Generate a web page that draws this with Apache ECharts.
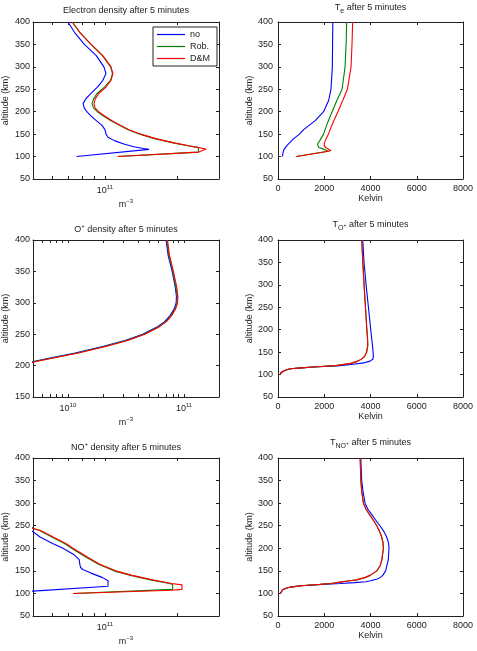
<!DOCTYPE html>
<html>
<head>
<meta charset="utf-8">
<script src="https://cdn.jsdelivr.net/npm/echarts@6/dist/echarts.min.js"></script>
<style>
html, body { margin: 0; padding: 0; background: #fff; }
#chart { width: 477px; height: 651px; }
</style>
</head>
<body>
<div id="chart"></div>
<script>
// ---- electron density (m^-3) ----
var neAltNo = [400, 375, 350, 325, 300, 285, 270, 255, 240, 228, 218, 208, 200, 190, 180, 170, 160, 150, 143, 135, 128, 122, 118, 116, 100];
var neNo = [7.0e10, 7.5e10, 8.2e10, 9.2e10, 9.9e10, 1.01e11, 9.8e10, 9.3e10, 8.7e10, 8.3e10, 8.1e10, 8.2e10, 8.4e10, 8.75e10, 9.2e10, 9.7e10, 1.0e11, 1.01e11, 1.03e11, 1.1e11, 1.2e11, 1.32e11, 1.45e11, 1.53e11, 7.6e10];
var neAltRob = [400, 375, 350, 325, 300, 285, 270, 255, 240, 228, 218, 208, 200, 190, 180, 170, 160, 150, 140, 130, 124, 120, 110, 100];
var neRob = [7.29e10, 7.89e10, 8.74e10, 9.76e10, 1.056e11, 1.075e11, 1.055e11, 9.95e10, 9.25e10, 8.95e10, 8.83e10, 8.97e10, 9.3e10, 9.9e10, 1.06e11, 1.15e11, 1.25e11, 1.40e11, 1.61e11, 1.95e11, 2.22e11, 2.46e11, 2.46e11, 1.13e11];
var neAltDM = [400, 375, 350, 325, 300, 285, 270, 255, 240, 228, 218, 208, 200, 190, 180, 170, 160, 150, 140, 130, 124, 120, 117, 114, 110, 100];
var neDM = [7.3e10, 7.9e10, 8.75e10, 9.8e10, 1.06e11, 1.08e11, 1.06e11, 1.01e11, 9.4e10, 9.1e10, 9.0e10, 9.1e10, 9.4e10, 1.0e11, 1.07e11, 1.16e11, 1.26e11, 1.41e11, 1.63e11, 1.97e11, 2.25e11, 2.47e11, 2.65e11, 2.67e11, 2.47e11, 1.13e11];

// ---- electron temperature (K) ----
var teAltNo = [400, 350, 300, 250, 225, 200, 180, 160, 150, 140, 125, 115, 105, 100];
var teNo = [2370, 2360, 2350, 2290, 2190, 1970, 1610, 1110, 930, 680, 390, 250, 200, 200];
var teAltRob = [400, 350, 300, 250, 225, 200, 175, 150, 135, 128, 124, 120, 116, 112, 108, 100];
var teRob = [2970, 2945, 2900, 2770, 2545, 2340, 2140, 1970, 1800, 1710, 1700, 1760, 2000, 2180, 1680, 790];
var teAltDM = [400, 350, 300, 250, 225, 200, 175, 150, 140, 130, 125, 120, 116, 113, 108, 100];
var teDM = [3230, 3200, 3160, 3000, 2800, 2590, 2370, 2180, 2080, 2000, 2000, 2060, 2200, 2290, 1750, 790];

// ---- O+ density (m^-3) ----
var opAlt = [400, 375, 350, 325, 310, 300, 290, 280, 270, 262, 250, 240, 230, 220, 212, 206, 200];
var opNo = [7.0e10, 7.3e10, 7.9e10, 8.4e10, 8.6e10, 8.55e10, 8.2e10, 7.6e10, 6.8e10, 5.9e10, 4.4e10, 3.1e10, 1.95e10, 1.15e10, 7.0e9, 4.9e9, 3.2e9];
var opRob = [7.1e10, 7.4e10, 8.0e10, 8.5e10, 8.75e10, 8.7e10, 8.35e10, 7.75e10, 6.95e10, 6.05e10, 4.5e10, 3.2e10, 2.02e10, 1.2e10, 7.3e9, 5.05e9, 3.3e9];
var opDM = [7.2e10, 7.5e10, 8.1e10, 8.65e10, 8.85e10, 8.8e10, 8.45e10, 7.85e10, 7.05e10, 6.15e10, 4.6e10, 3.28e10, 2.07e10, 1.23e10, 7.5e9, 5.2e9, 3.4e9];

// ---- O+ temperature (K) ----
var toAltNo = [400, 350, 300, 250, 200, 160, 140, 134, 130, 126, 123, 120, 117, 115, 113, 110, 108, 104, 100];
var toNo = [3665, 3720, 3810, 3910, 4010, 4095, 4125, 4100, 3980, 3700, 3250, 2690, 1540, 1035, 530, 345, 245, 130, 100];
var toAlt = [400, 350, 300, 250, 200, 180, 165, 150, 140, 135, 130, 125, 120, 117, 115, 113, 110, 108, 104, 100];
var toRob = [3625, 3670, 3725, 3785, 3845, 3875, 3885, 3835, 3735, 3625, 3455, 3160, 2510, 1510, 1005, 530, 345, 245, 130, 100];
var toDM = [3620, 3665, 3720, 3780, 3840, 3870, 3880, 3830, 3730, 3620, 3450, 3150, 2500, 1500, 1000, 530, 345, 245, 130, 100];

// ---- NO+ density (m^-3) ----
var npAltNo = [260, 237, 225, 210, 200, 185, 175, 165, 158, 153, 145, 135, 128, 116, 105, 100];
var npNo = [4.2e10, 5.0e10, 5.35e10, 6.07e10, 6.67e10, 7.46e10, 7.8e10, 7.85e10, 7.9e10, 8.07e10, 8.74e10, 9.78e10, 1.03e11, 1.03e11, 5.0e10, 3.6e10];
var npAltRob = [270, 244, 240, 225, 210, 200, 180, 165, 150, 140, 130, 122, 120, 109, 100];
var npRob = [4.2e10, 5.0e10, 5.3e10, 6.0e10, 6.8e10, 7.25e10, 8.35e10, 9.35e10, 1.09e11, 1.28e11, 1.55e11, 1.86e11, 1.92e11, 1.92e11, 7.35e10];
var npAltDM = [270, 244, 240, 225, 210, 200, 180, 165, 150, 140, 130, 122, 119, 109, 107, 100];
var npDM = [4.2e10, 5.0e10, 5.35e10, 6.07e10, 6.89e10, 7.35e10, 8.47e10, 9.47e10, 1.11e11, 1.30e11, 1.58e11, 1.9e11, 2.1e11, 2.1e11, 1.9e11, 7.35e10];

// ---- NO+ temperature (K) ----
var tnAltNo = [400, 350, 325, 300, 287, 275, 262, 250, 237, 225, 212, 200, 175, 150, 140, 135, 132, 128, 126, 124, 122, 120, 117, 115, 113, 111, 108, 104, 100];
var tnNo = [3580, 3620, 3680, 3765, 3880, 4050, 4230, 4410, 4580, 4700, 4780, 4800, 4770, 4655, 4530, 4410, 4300, 4000, 3800, 3300, 2700, 1900, 1000, 700, 450, 330, 200, 130, 100];
var tnAlt = [400, 350, 325, 300, 287, 275, 262, 250, 237, 225, 212, 200, 175, 162, 150, 140, 135, 130, 128, 125, 122, 120, 117, 115, 113, 111, 108, 104, 100];
var tnRob = [3555, 3585, 3625, 3695, 3805, 3955, 4125, 4275, 4395, 4485, 4545, 4560, 4495, 4425, 4275, 3985, 3755, 3405, 3105, 2695, 2305, 1835, 1000, 700, 450, 330, 200, 130, 100];
var tnDM = [3550, 3580, 3620, 3690, 3800, 3950, 4120, 4270, 4390, 4480, 4540, 4555, 4490, 4420, 4270, 3980, 3750, 3400, 3100, 2690, 2300, 1830, 1000, 700, 450, 330, 200, 130, 100];

// axis ticks
var tempTicks = [0, 2000, 4000, 6000, 8000];
var neTicks = [6e10, 7e10, 8e10, 9e10, 1e11, 2e11, 3e11];
var neLabels = [1e11];
var opTicks = [5e9, 6e9, 7e9, 8e9, 9e9, 1e10, 2e10, 3e10, 4e10, 5e10, 6e10, 7e10, 8e10, 9e10, 1e11, 2e11];
var opLabels = [1e10, 1e11];

var seriesNames = ['no', 'Rob.', 'D&M'];
var seriesColors = ['#0000ff', '#008000', '#ff0000'];

var INK = '#222';
var FONT = 'Liberation Sans, Arial, Helvetica, sans-serif';

var panels = [
  { grid: {left: 33, top: 22, width: 186, height: 157}, log: true, xMin: 5e10, xMax: 3e11, xTicks: neTicks, xLabels: neLabels,
    yMin: 50, title: 'Electron density after 5 minutes', tx: 126, ty: 5, xName: 'm{e|\u22123}', yGap: 23, ylm: 3,
    lines: [[neNo, neAltNo], [neRob, neAltRob], [neDM, neAltDM]] },
  { grid: {left: 278, top: 22, width: 185, height: 157}, log: false,
    yMin: 50, title: 'T{sub|e} after 5 minutes', tx: 370.5, ty: 2, xName: 'Kelvin', yGap: 23, ylm: 5,
    lines: [[teNo, teAltNo], [teRob, teAltRob], [teDM, teAltDM]] },
  { grid: {left: 33, top: 240, width: 186, height: 157}, log: true, xMin: 5e9, xMax: 2e11, xTicks: opTicks, xLabels: opLabels,
    yMin: 150, title: 'O{sup|+} density after 5 minutes', tx: 126, ty: 224, xName: 'm{e|\u22123}', yGap: 23, ylm: 3,
    lines: [[opNo, opAlt], [opRob, opAlt], [opDM, opAlt]] },
  { grid: {left: 278, top: 240, width: 185, height: 157}, log: false,
    yMin: 50, title: 'T{sub|O}{ssup|+} after 5 minutes', tx: 370.5, ty: 219, xName: 'Kelvin', yGap: 23, ylm: 5,
    lines: [[toNo, toAltNo], [toRob, toAlt], [toDM, toAlt]] },
  { grid: {left: 33, top: 458, width: 186, height: 158}, log: true, xMin: 5e10, xMax: 3e11, xTicks: neTicks, xLabels: neLabels,
    yMin: 50, title: 'NO{sup|+} density after 5 minutes', tx: 126, ty: 442, xName: 'm{e|\u22123}', yGap: 23, ylm: 3,
    lines: [[npNo, npAltNo], [npRob, npAltRob], [npDM, npAltDM]] },
  { grid: {left: 278, top: 458, width: 185, height: 158}, log: false,
    yMin: 50, title: 'T{sub|NO}{ssup|+} after 5 minutes', tx: 370.5, ty: 437, xName: 'Kelvin', yGap: 23, ylm: 5,
    lines: [[tnNo, tnAltNo], [tnRob, tnAlt], [tnDM, tnAlt]] }
];

function powLabel(v) {
  var l = Math.log(v) / Math.LN10;
  var e = Math.round(l);
  if (Math.abs(l - e) > 1e-6) return '';
  return '{b|10}{e|' + e + '}';
}

function plainLabel(v) {
  return String(v);
}

var labelRich = {
  b: {fontSize: 9, color: INK, fontFamily: FONT},
  e: {fontSize: 6, color: INK, fontFamily: FONT, padding: [0, 0, 7, 0]}
};

function makeX(p, gi, mirror) {
  var a = {
    gridIndex: gi,
    position: mirror ? 'top' : 'bottom',
    axisLine: {show: true, onZero: false, lineStyle: {color: INK, width: 1}},
    axisTick: {show: true, inside: true, length: 3, lineStyle: {color: INK}},
    splitLine: {show: false},
    axisLabel: {show: !mirror, color: INK, fontSize: 9, fontFamily: FONT, margin: 5}
  };
  if (p.log) {
    a.type = 'log';
    a.logBase = 10;
    a.min = p.xMin;
    a.max = p.xMax;
    a.axisTick.customValues = p.xTicks;
    a.axisLabel.customValues = p.xLabels;
    a.axisLabel.formatter = powLabel;
    a.axisLabel.rich = labelRich;
  } else {
    a.type = 'value';
    a.min = tempTicks[0];
    a.max = tempTicks[tempTicks.length - 1];
    a.interval = 2000;
    a.axisLabel.formatter = plainLabel;
  }
  if (!mirror) {
    a.name = p.xName;
    a.nameLocation = 'middle';
    a.nameGap = p.log ? 19 : 14;
    a.nameTextStyle = {color: INK, fontSize: 9, fontFamily: FONT, rich: labelRich};
  }
  return a;
}

function makeY(p, gi, mirror) {
  var a = {
    type: 'value',
    gridIndex: gi,
    position: mirror ? 'right' : 'left',
    min: p.yMin,
    max: 400,
    interval: 50,
    axisLine: {show: true, onZero: false, lineStyle: {color: INK, width: 1}},
    axisTick: {show: true, inside: true, length: 3, lineStyle: {color: INK}},
    splitLine: {show: false},
    axisLabel: {show: !mirror, color: INK, fontSize: 9, fontFamily: FONT, margin: p.ylm, formatter: plainLabel}
  };
  if (!mirror) {
    a.name = 'altitude (km)';
    a.nameLocation = 'middle';
    a.nameGap = p.yGap;
    a.nameTextStyle = {color: INK, fontSize: 9, fontFamily: FONT};
  }
  return a;
}

var grids = [], xAxes = [], yAxes = [], titles = [], series = [];
panels.forEach(function (p, gi) {
  grids.push(p.grid);
  xAxes.push(makeX(p, gi, false), makeX(p, gi, true));
  yAxes.push(makeY(p, gi, false), makeY(p, gi, true));
  titles.push({
    text: p.title,
    left: p.tx,
    top: p.ty,
    textAlign: 'center',
    padding: 0,
    textStyle: {
      color: INK, fontSize: 9, fontWeight: 'normal', fontFamily: FONT, lineHeight: 12,
      rich: {
        sub: {fontSize: 7, color: INK, fontFamily: FONT, padding: [7, 0, 0, 0]},
        sup: {fontSize: 6, color: INK, fontFamily: FONT, padding: [0, 0, 7, 0]},
        ssup: {fontSize: 5, color: INK, fontFamily: FONT, padding: [2, 0, 0, 0]}
      }
    }
  });
  p.lines.forEach(function (ln, si) {
    var vals = ln[0], alts = ln[1];
    series.push({
      type: 'line',
      name: seriesNames[si],
      xAxisIndex: gi * 2,
      yAxisIndex: gi * 2,
      data: vals.map(function (v, i) { return [v, alts[i]]; }),
      symbol: 'none',
      showSymbol: false,
      clip: true,
      lineStyle: {color: seriesColors[si], width: 1.1},
      itemStyle: {color: seriesColors[si]},
      z: 2 + si
    });
  });
});

var option = {
  animation: false,
  backgroundColor: '#fff',
  title: titles,
  grid: grids,
  xAxis: xAxes,
  yAxis: yAxes,
  legend: {
    data: seriesNames,
    orient: 'vertical',
    left: 153,
    top: 27,
    icon: 'rect',
    itemWidth: 28,
    itemHeight: 1.2,
    itemGap: 3,
    padding: [3, 7, 3, 4],
    borderColor: INK,
    borderWidth: 1,
    backgroundColor: '#fff',
    selectedMode: false,
    textStyle: {color: INK, fontSize: 9, fontFamily: FONT, lineHeight: 9}
  },
  series: series
};

var myChart = echarts.init(document.getElementById('chart'));
myChart.setOption(option);
</script>
</body>
</html>
